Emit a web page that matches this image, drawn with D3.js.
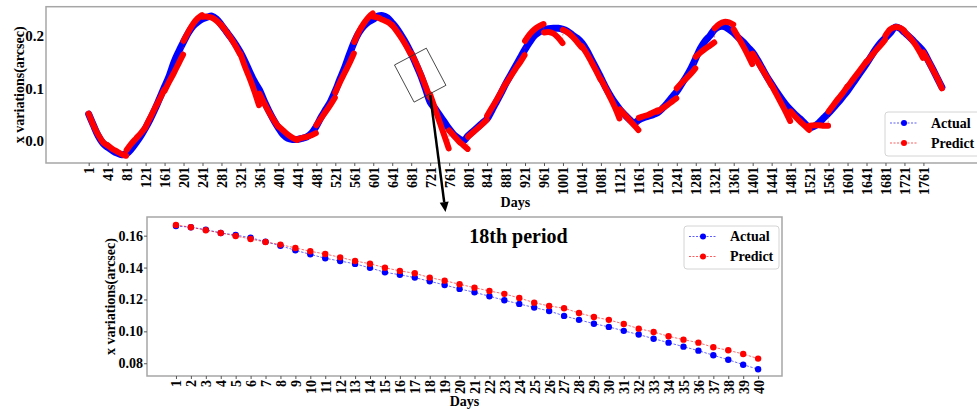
<!DOCTYPE html>
<html>
<head>
<meta charset="utf-8">
<script src="https://cdn.jsdelivr.net/npm/d3@7/dist/d3.min.js"></script>
<style>
  body { margin: 0; background: #fff; }
  svg { display: block; font-family: "Liberation Serif", "Times New Roman", serif; font-weight: bold; }
</style>
</head>
<body>
<svg id="chart" width="977" height="409"></svg>
<script>
// ---------- overview: whole record ----------
// Actual series, sampled every 10 days (plus the last day)
const actualDays = d3.range(1, 1800, 10).concat([1800]);
const actualValues = [
  0.051, 0.030, 0.010, -0.004, -0.012, -0.018, -0.023, -0.026, -0.024, -0.015,
  -0.003, 0.010, 0.025, 0.042, 0.061, 0.082, 0.103, 0.124, 0.150, 0.170,
  0.188, 0.205, 0.218, 0.226, 0.232, 0.235, 0.237, 0.231, 0.220, 0.208,
  0.196, 0.183, 0.168, 0.150, 0.130, 0.112, 0.097, 0.076, 0.057, 0.040,
  0.025, 0.012, 0.005, 0.003, 0.003, 0.005, 0.008, 0.015, 0.028, 0.045,
  0.060, 0.075, 0.095, 0.118, 0.140, 0.165, 0.188, 0.206, 0.218, 0.226,
  0.231, 0.237, 0.238, 0.234, 0.224, 0.213, 0.199, 0.184, 0.166, 0.146,
  0.125, 0.100, 0.074, 0.062, 0.049, 0.036, 0.023, 0.012, 0.005, 0.000,
  0.010, 0.018, 0.026, 0.034, 0.042, 0.058, 0.075, 0.092, 0.110, 0.126,
  0.142, 0.158, 0.174, 0.188, 0.200, 0.207, 0.211, 0.213, 0.214, 0.214,
  0.212, 0.208, 0.201, 0.195, 0.186, 0.172, 0.155, 0.138, 0.120, 0.102,
  0.086, 0.072, 0.060, 0.050, 0.041, 0.034, 0.040, 0.044, 0.047, 0.050,
  0.054, 0.062, 0.072, 0.083, 0.094, 0.108, 0.122, 0.138, 0.157, 0.176,
  0.190, 0.200, 0.212, 0.217, 0.217, 0.212, 0.205, 0.196, 0.188, 0.178,
  0.168, 0.154, 0.138, 0.122, 0.108, 0.094, 0.081, 0.069, 0.059, 0.050,
  0.042, 0.033, 0.025, 0.028, 0.035, 0.044, 0.053, 0.063, 0.073, 0.084,
  0.095, 0.108, 0.121, 0.134, 0.147, 0.161, 0.175, 0.187, 0.196, 0.205,
  0.216, 0.214, 0.206, 0.198, 0.189, 0.180, 0.170, 0.153, 0.136, 0.118,
  0.102
];

// Predictions are made period by period (40 days each);
// values at day offsets 0, 10, 20, 30, 39 within each period
const periodLength = 40;
const segmentOffsets = [0, 10, 20, 30, 39];
const predictSegments = [
  [0.052, 0.030, 0.012, -0.002, -0.008],
  [-0.008, -0.015, -0.020, -0.025, -0.028],
  [-0.017, -0.005, 0.005, 0.015, 0.025],
  [0.027, 0.045, 0.063, 0.080, 0.097],
  [0.095, 0.113, 0.130, 0.148, 0.164],
  [0.190, 0.207, 0.222, 0.233, 0.239],
  [0.236, 0.236, 0.234, 0.228, 0.220],
  [0.220, 0.208, 0.195, 0.180, 0.165],
  [0.165, 0.140, 0.118, 0.093, 0.068],
  [0.090, 0.072, 0.055, 0.040, 0.028],
  [0.028, 0.020, 0.012, 0.006, 0.002],
  [0.003, 0.006, 0.008, 0.011, 0.015],
  [0.030, 0.043, 0.056, 0.069, 0.082],
  [0.092, 0.112, 0.130, 0.148, 0.166],
  [0.188, 0.208, 0.223, 0.235, 0.242],
  [0.236, 0.234, 0.230, 0.226, 0.220],
  [0.220, 0.208, 0.195, 0.180, 0.165],
  [0.1667, 0.1485, 0.1274, 0.1046, 0.0829],
  [0.088, 0.062, 0.036, 0.010, -0.014],
  [0.020, 0.010, 0.000, -0.008, -0.015],
  [0.008, 0.016, 0.024, 0.032, 0.040],
  [0.048, 0.063, 0.078, 0.094, 0.109],
  [0.109, 0.123, 0.137, 0.150, 0.163],
  [0.190, 0.203, 0.212, 0.218, 0.222],
  [0.206, 0.207, 0.204, 0.196, 0.186],
  [0.211, 0.206, 0.198, 0.188, 0.178],
  [0.180, 0.166, 0.150, 0.133, 0.117],
  [0.117, 0.100, 0.082, 0.063, 0.043],
  [0.060, 0.050, 0.040, 0.030, 0.021],
  [0.044, 0.047, 0.050, 0.054, 0.058],
  [0.056, 0.062, 0.068, 0.075, 0.081],
  [0.100, 0.110, 0.119, 0.128, 0.138],
  [0.160, 0.168, 0.175, 0.181, 0.187],
  [0.214, 0.222, 0.226, 0.225, 0.221],
  [0.212, 0.196, 0.180, 0.163, 0.146],
  [0.166, 0.151, 0.136, 0.121, 0.106],
  [0.106, 0.089, 0.072, 0.055, 0.038],
  [0.056, 0.046, 0.037, 0.029, 0.021],
  [0.029, 0.030, 0.030, 0.029, 0.029],
  [0.056, 0.068, 0.080, 0.091, 0.103],
  [0.103, 0.115, 0.127, 0.139, 0.150],
  [0.150, 0.161, 0.172, 0.182, 0.192],
  [0.200, 0.212, 0.216, 0.215, 0.210],
  [0.207, 0.198, 0.187, 0.173, 0.158],
  [0.168, 0.152, 0.135, 0.118, 0.100]
];

const overviewXTicks = [1, 41, 81, 121, 161, 201, 241, 281, 321, 361, 401, 441, 481, 521, 561,
  601, 641, 681, 721, 761, 801, 841, 881, 921, 961, 1001, 1041, 1081, 1121, 1161, 1201,
  1241, 1281, 1321, 1361, 1401, 1441, 1481, 1521, 1561, 1601, 1641, 1681, 1721, 1761];
const overviewYTicks = [0.0, 0.1, 0.2];

// ---------- detail: 18th period ----------
const periodNumber = 18;
const periodDays = d3.range(1, 41);
const periodActual = [
  0.1660, 0.1653, 0.1638, 0.1617, 0.1604, 0.1587, 0.1562, 0.1537, 0.1508, 0.1483,
  0.1458, 0.1441, 0.1423, 0.1398, 0.1370, 0.1355, 0.1337, 0.1314, 0.1291, 0.1266,
  0.1245, 0.1220, 0.1195, 0.1172, 0.1149, 0.1128, 0.1097, 0.1072, 0.1048, 0.1028,
  0.1003, 0.0980, 0.0954, 0.0929, 0.0904, 0.0879, 0.0850, 0.0822, 0.0791, 0.0762
];
const periodPredict = [
  0.1667, 0.1653, 0.1634, 0.1617, 0.1598, 0.1579, 0.1560, 0.1544, 0.1523, 0.1502,
  0.1485, 0.1464, 0.1441, 0.1424, 0.1399, 0.1379, 0.1364, 0.1337, 0.1318, 0.1295,
  0.1274, 0.1253, 0.1235, 0.1209, 0.1180, 0.1159, 0.1145, 0.1115, 0.1090, 0.1072,
  0.1046, 0.1017, 0.0996, 0.0969, 0.0948, 0.0929, 0.0900, 0.0881, 0.0858, 0.0829
];
const detailYTicks = [0.08, 0.10, 0.12, 0.14, 0.16];

const seriesNames = ["Actual", "Predict"];
const BLUE = "#0000ff", RED = "#ff0000";
const FRAME = "#a6a6a6";

const svg = d3.select("#chart");

// ======================= overview panel =======================
const ov = { left: 46, right: 984.6, top: 6.7, bottom: 163 };
const x = d3.scaleLinear().domain([-89, 1890]).range([ov.left, ov.right]);
const y = d3.scaleLinear().domain([-0.0417, 0.2549]).range([ov.bottom, ov.top]);

svg.append("clipPath").attr("id", "ovClip")
  .append("rect").attr("x", ov.left).attr("y", ov.top)
  .attr("width", ov.right - ov.left).attr("height", ov.bottom - ov.top);

const ovPlot = svg.append("g").attr("clip-path", "url(#ovClip)");

const actualPts = actualDays.map((d, i) => [d, actualValues[i]]);
const predictSegPts = predictSegments.map((seg, s) =>
  seg.map((v, k) => [s * periodLength + 1 + segmentOffsets[k], v]));
const predictAllPts = predictSegPts.flat();

const smooth = d3.line().x(d => x(d[0])).y(d => y(d[1])).curve(d3.curveCatmullRom.alpha(0.5));
const straight = d3.line().x(d => x(d[0])).y(d => y(d[1]));

// thin dashed connector lines
ovPlot.append("path").attr("d", straight(actualPts))
  .attr("fill", "none").attr("stroke", BLUE).attr("stroke-width", 0.8)
  .attr("stroke-dasharray", "2,2").attr("opacity", 0.6);
// dense daily markers read as a thick band
ovPlot.append("path").attr("d", smooth(actualPts))
  .attr("fill", "none").attr("stroke", BLUE).attr("stroke-width", 7)
  .attr("stroke-linecap", "round").attr("stroke-linejoin", "round");

ovPlot.append("path").attr("d", straight(predictAllPts))
  .attr("fill", "none").attr("stroke", RED).attr("stroke-width", 0.8)
  .attr("stroke-dasharray", "2,2").attr("opacity", 0.6);
ovPlot.selectAll("path.seg").data(predictSegPts).join("path")
  .attr("class", "seg").attr("d", smooth)
  .attr("fill", "none").attr("stroke", RED).attr("stroke-width", 6)
  .attr("stroke-linecap", "round").attr("stroke-linejoin", "round");

// frame
svg.append("rect").attr("x", ov.left).attr("y", ov.top)
  .attr("width", ov.right - ov.left).attr("height", ov.bottom - ov.top)
  .attr("fill", "none").attr("stroke", FRAME).attr("stroke-width", 1.5);

// axes
const ovX = svg.append("g").attr("transform", `translate(0,${ov.bottom})`)
  .call(d3.axisBottom(x).tickValues(overviewXTicks).tickSize(3).tickFormat(d3.format("d")));
ovX.select(".domain").remove();
ovX.selectAll("line").attr("stroke", "#555");
ovX.selectAll("text").attr("transform", "rotate(-90)").attr("text-anchor", "end")
  .attr("x", -4).attr("y", 0).attr("dy", "0.35em")
  .style("font-size", "14px").style("font-family", "Liberation Serif").style("font-weight", "bold").attr("fill", "#000");

const ovY = svg.append("g").attr("transform", `translate(${ov.left},0)`)
  .call(d3.axisLeft(y).tickValues(overviewYTicks).tickSize(0).tickPadding(2).tickFormat(d3.format(".1f")));
ovY.select(".domain").remove();
ovY.selectAll("text").style("font-size", "15px").style("font-family", "Liberation Serif")
  .style("font-weight", "bold").attr("fill", "#000");

svg.append("text").attr("transform", `translate(24,${(ov.top + ov.bottom) / 2}) rotate(-90)`)
  .attr("text-anchor", "middle").style("font-size", "14px").text("x variations(arcsec)");
svg.append("text").attr("x", (ov.left + ov.right) / 2).attr("y", 207)
  .attr("text-anchor", "middle").style("font-size", "14px").text("Days");

// zoom box around the highlighted period and the arrow down to the detail panel
const hlMid = (periodNumber - 1) * periodLength + 20;
svg.append("rect")
  .attr("transform", `translate(${x(hlMid)},${y(0.125)}) rotate(-27.8)`)
  .attr("x", -18).attr("y", -21).attr("width", 36).attr("height", 42)
  .attr("fill", "none").attr("stroke", "#333").attr("stroke-width", 0.8);

const aStart = [x(periodNumber * periodLength + 1), y(0.087)];
const aTip = [445.5, 212];
{
  const dx = aTip[0] - aStart[0], dy = aTip[1] - aStart[1];
  const len = Math.hypot(dx, dy), ux = dx / len, uy = dy / len;
  const hl = 10, hw = 4.5;
  const base = [aTip[0] - hl * ux, aTip[1] - hl * uy];
  svg.append("line").attr("x1", aStart[0]).attr("y1", aStart[1])
    .attr("x2", base[0]).attr("y2", base[1])
    .attr("stroke", "#000").attr("stroke-width", 2.5);
  svg.append("polygon").attr("points", [
    aTip, [base[0] - hw * uy, base[1] + hw * ux], [base[0] + hw * uy, base[1] - hw * ux]
  ].map(p => p.join(",")).join(" ")).attr("fill", "#000");
}

// ======================= detail panel =======================
const dt = { left: 147, right: 782, top: 217, bottom: 376 };
const xi = d3.scaleLinear().domain([-0.94, 41.6]).range([dt.left, dt.right]);
const yi = d3.scaleLinear().domain([0.0720, 0.1717]).range([dt.bottom, dt.top]);

svg.append("rect").attr("x", dt.left).attr("y", dt.top)
  .attr("width", dt.right - dt.left).attr("height", dt.bottom - dt.top)
  .attr("fill", "#fff").attr("stroke", FRAME).attr("stroke-width", 1.5);

const detailLine = d3.line().x((d, i) => xi(periodDays[i])).y(d => yi(d));
[[periodActual, BLUE], [periodPredict, RED]].forEach(([vals, col]) => {
  svg.append("path").attr("d", detailLine(vals))
    .attr("fill", "none").attr("stroke", col).attr("stroke-width", 0.9)
    .attr("stroke-dasharray", "2.5,1.5").attr("opacity", 0.65);
  svg.append("g").selectAll("circle").data(vals).join("circle")
    .attr("cx", (d, i) => xi(periodDays[i])).attr("cy", d => yi(d))
    .attr("r", 3.2).attr("fill", col);
});

const dtX = svg.append("g").attr("transform", `translate(0,${dt.bottom})`)
  .call(d3.axisBottom(xi).tickValues(periodDays).tickSize(3).tickFormat(d3.format("d")));
dtX.select(".domain").remove();
dtX.selectAll("line").attr("stroke", "#555");
dtX.selectAll("text").attr("transform", "rotate(-90)").attr("text-anchor", "end")
  .attr("x", -4).attr("y", 0).attr("dy", "0.35em")
  .style("font-size", "14px").style("font-family", "Liberation Serif").style("font-weight", "bold").attr("fill", "#000");

const dtY = svg.append("g").attr("transform", `translate(${dt.left},0)`)
  .call(d3.axisLeft(yi).tickValues(detailYTicks).tickSize(3).tickPadding(1).tickFormat(d3.format(".2f")));
dtY.select(".domain").remove();
dtY.selectAll("line").attr("stroke", "#555");
dtY.selectAll("text").style("font-size", "14px").style("font-family", "Liberation Serif")
  .style("font-weight", "bold").attr("fill", "#000");

svg.append("text").attr("transform", `translate(115,${(dt.top + dt.bottom) / 2}) rotate(-90)`)
  .attr("text-anchor", "middle").style("font-size", "14px").text("x variations(arcsec)");
svg.append("text").attr("x", (dt.left + dt.right) / 2).attr("y", 406)
  .attr("text-anchor", "middle").style("font-size", "14px").text("Days");
svg.append("text").attr("x", 518.5).attr("y", 243)
  .attr("text-anchor", "middle").style("font-size", "20px").text(periodNumber + "th period");

// ======================= legends =======================
function legend(x0, y0, w, h, rowY) {
  const g = svg.append("g");
  g.append("rect").attr("x", x0).attr("y", y0).attr("width", w).attr("height", h)
    .attr("rx", 3).attr("fill", "#fff").attr("fill-opacity", 0.85)
    .attr("stroke", "#d4d4d4").attr("stroke-width", 1);
  [BLUE, RED].forEach((col, i) => {
    const yy = rowY[i];
    g.append("line").attr("x1", x0 + 5).attr("x2", x0 + 33).attr("y1", yy).attr("y2", yy)
      .attr("stroke", col).attr("stroke-width", 0.9).attr("stroke-dasharray", "2,1.5").attr("opacity", 0.7);
    g.append("circle").attr("cx", x0 + 19).attr("cy", yy).attr("r", 3).attr("fill", col);
    g.append("text").attr("x", x0 + 46).attr("y", yy).attr("dy", "0.35em")
      .style("font-size", "14px").text(seriesNames[i]);
  });
}
legend(885, 112, 100, 44, [123, 143]);
legend(684, 226, 95, 43, [236.5, 256.5]);
</script>
</body>
</html>
